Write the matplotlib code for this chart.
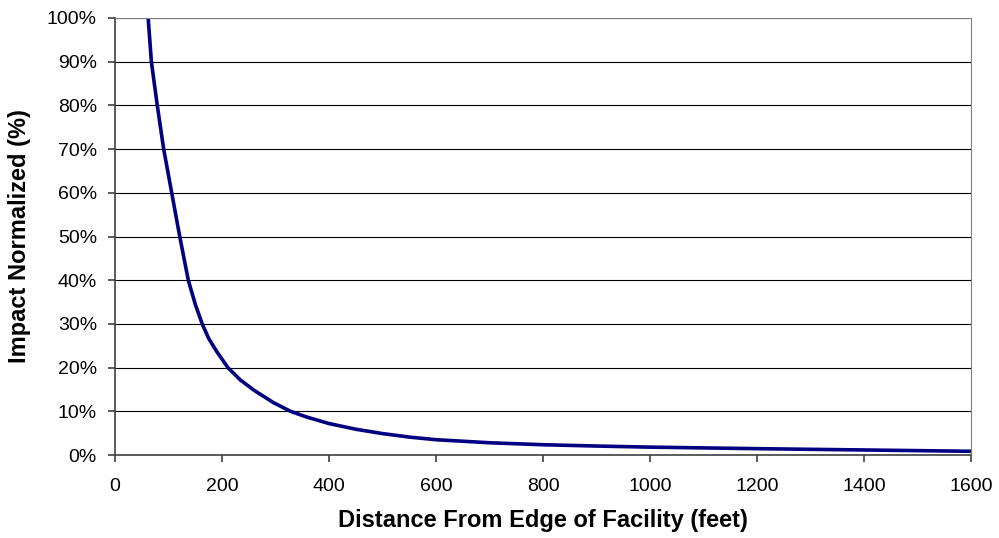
import matplotlib.pyplot as plt
from matplotlib.ticker import PercentFormatter

plt.rcParams['font.family'] = ['Liberation Sans', 'DejaVu Sans']

# distance (feet) vs normalized impact (%)
distance = [62, 68, 79, 91, 106, 121, 137, 150, 163, 175, 190, 211, 234, 260,
            296, 328, 358, 400, 450, 500, 550, 600, 700, 800, 900, 1000,
            1200, 1400, 1600]
impact = [100, 90, 80, 70, 60, 50, 40, 34.5, 30, 26.7, 23.7, 20, 17.2, 14.8,
          12.0, 10.0, 8.7, 7.2, 5.9, 4.9, 4.1, 3.5, 2.8, 2.35, 2.05, 1.8,
          1.45, 1.15, 0.85]

fig = plt.figure(figsize=(9.99, 5.38), dpi=100)
ax = fig.add_axes([115 / 999, 1 - 455 / 538, 856 / 999, 437 / 538])

ax.plot(distance, impact, color='#000080', linewidth=2.6, solid_joinstyle='round')

ax.set_xlim(0, 1600)
ax.set_ylim(0, 100)
ax.set_xticks(range(0, 1601, 200))
ax.set_yticks(range(0, 101, 10))
ax.yaxis.set_major_formatter(PercentFormatter(decimals=0))
ax.grid(axis='y', color='black', linewidth=0.8)
ax.set_axisbelow(True)

for s in ['top', 'right']:
    ax.spines[s].set_color('#808080')
for s in ['left', 'bottom']:
    ax.spines[s].set_color('#404040')
    ax.spines[s].set_linewidth(1.2)

ax.tick_params(labelsize=14, length=5, color='#404040', width=1.2)
ax.tick_params(axis='x', pad=11.5)
ax.tick_params(axis='y', pad=8)

ax.set_xlabel('Distance From Edge of Facility (feet)', fontsize=17, fontweight='bold')
ax.set_ylabel('Impact Normalized (%)', fontsize=17, fontweight='bold')
ax.xaxis.set_label_coords(0.5, -0.124)
ax.yaxis.set_label_coords(-0.098, 0.5)

fig.savefig('out.png', dpi=100)
